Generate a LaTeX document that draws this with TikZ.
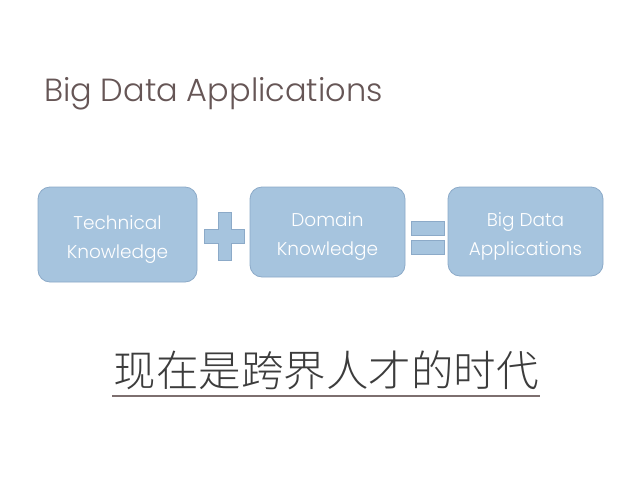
\documentclass[tikz,border=0pt]{standalone}
\usepackage{fontspec}
\setmainfont{Poppins Light}
\newfontfamily\cjk{Noto Sans CJK SC Light}
\definecolor{boxfill}{RGB}{166,196,222}
\definecolor{boxline}{RGB}{140,170,200}
\definecolor{titlecol}{RGB}{102,86,86}
\definecolor{cjkcol}{RGB}{60,60,60}
\begin{document}
\begin{tikzpicture}[x=1pt,y=-1pt,
  kbox/.style={draw=boxline,fill=boxfill,rounded corners=12pt,line width=0.8pt},
  sym/.style={draw=boxline,fill=boxfill,line width=0.6pt},
  btext/.style={text=white,font=\fontsize{18.5}{29}\selectfont,align=center}]
\useasboundingbox (0,0) rectangle (640,480);
\fill[white] (0,0) rectangle (640,480);
\node[anchor=base west,text=titlecol,font=\fontsize{32}{38}\selectfont,inner sep=0] (title) at (44,101) {Big Data Applications};
\draw[kbox] (38,187) rectangle (197,282);
\node[btext] (k1) at (117.5,240) {Technical\\Knowledge};
\draw[kbox] (250,187) rectangle (405,277);
\node[btext] (k2) at (327.5,237) {Domain\\Knowledge};
\draw[kbox] (448,187) rectangle (603,276);
\node[btext] (k3) at (525.5,236.5) {Big Data\\Applications};
% plus
\draw[sym] (218,212) -- (231,212) -- (231,229) -- (244,229) -- (244,243) -- (231,243) -- (231,260) -- (218,260) -- (218,243) -- (204,243) -- (204,229) -- (218,229) -- cycle;
% equals
\draw[sym] (411,221) rectangle (444,235);
\draw[sym] (411,240) rectangle (444,254);
\node[text=cjkcol,font=\cjk\fontsize{42.5}{46}\selectfont,inner sep=0] (cn) at (326,370) {现在是跨界人才的时代};
\draw[draw=titlecol!85,line width=1.8pt] (112,396) -- (540,396);
\end{tikzpicture}
\end{document}
